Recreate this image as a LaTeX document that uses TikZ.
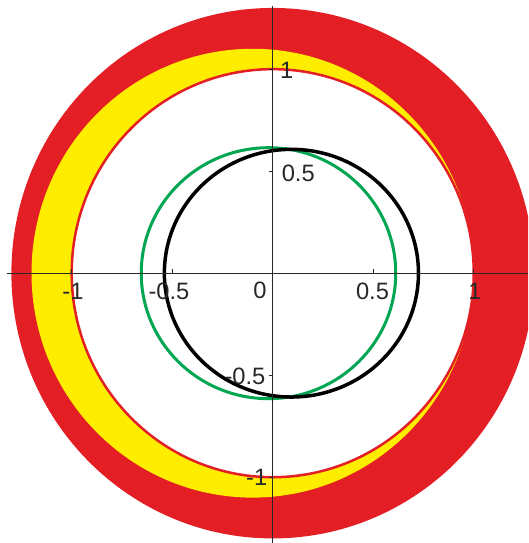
\documentclass[tikz,border=0pt]{standalone}
\usepackage{fontspec}
\setmainfont{Liberation Sans}
\definecolor{myred}{RGB}{227,30,36}
\definecolor{myyellow}{RGB}{255,237,0}
\definecolor{mygreen}{RGB}{0,166,81}
\definecolor{axisgray}{RGB}{40,40,40}
\begin{document}
\begin{tikzpicture}[x=201pt,y=204pt,
  lab/.style={inner sep=0pt,font=\fontsize{23.7}{28}\selectfont,text=axisgray},
  axisline/.style={line width=1.2pt,draw=axisgray},
  tickmark/.style={line width=1pt,draw=axisgray}]
\useasboundingbox (-1.3567,-1.3225) rectangle (1.27,1.339);
\clip (-1.3567,-1.3225) rectangle (1.27,1.339);
% discs
\fill[myred] (0,0) ellipse [x radius=1.30,y radius=1.30];
\fill[myyellow] (-0.1,0) ellipse [x radius=1.1,y radius=1.1];
\filldraw[fill=white,draw=myred,line width=2.5pt] (0,0) ellipse [x radius=1,y radius=1];
% curves
\draw[mygreen,line width=3pt] (-0.021,0) ellipse [x radius=0.633,y radius=0.615];
\draw[black,line width=3.5pt] (0.093,0) ellipse [x radius=0.632,y radius=0.607];
% axes
\coordinate (xl) at (-1.322,0);
\coordinate (xr) at (1.27,0);
\coordinate (yt) at (0,1.31);
\coordinate (yb) at (0,-1.3225);
\draw[axisline] (xl) -- (xr);
\draw[axisline] (yt) -- (yb);
\foreach \t in {-1,-0.5,0.5,1} {
  \draw[tickmark] (\t,0) -- ++(0,4pt);
  \draw[tickmark] (0,\t) -- ++(-4pt,0);
}
% labels
\node[lab] (xm1) at (-0.9935,-0.0897) {-1};
\node[lab] (xm05) at (-0.516,-0.0897) {-0.5};
\node[lab] (x0) at (-0.063,-0.082) {0};
\node[lab] (x05) at (0.4965,-0.0897) {0.5};
\node[lab] (x1) at (1.0065,-0.0897) {1};
\node[lab] (y1) at (0.0697,0.992) {1};
\node[lab] (y05) at (0.127,0.49) {0.5};
\node[lab] (ym05) at (-0.138,-0.507) {-0.5};
\node[lab] (ym1) at (-0.0796,-1.0015) {-1};
\end{tikzpicture}
\end{document}
